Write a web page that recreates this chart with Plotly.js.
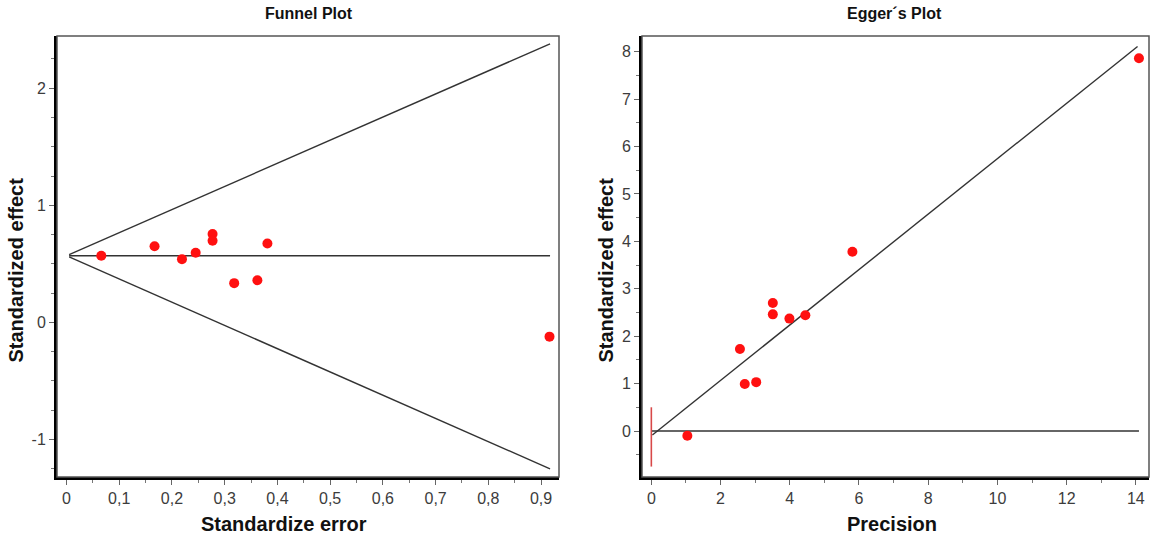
<!DOCTYPE html>
<html>
<head>
<meta charset="utf-8">
<script src="https://cdn.plot.ly/plotly-3.0.1.min.js"></script>
<style>html,body{margin:0;padding:0;background:#fff;}#chart{width:1151px;height:535px;}</style>
</head>
<body>
<div id="chart"></div>
<script>
// Funnel plot data (standard error vs standardized effect)
const funnelSE = [0.066, 0.167, 0.219, 0.245, 0.277, 0.277, 0.318, 0.362, 0.381, 0.916];
const funnelEffect = [0.569, 0.65, 0.54, 0.595, 0.755, 0.697, 0.335, 0.36, 0.673, -0.122];
const pooledEffect = 0.569;
const funnelLineSE = [0.005, 0.917];
const funnelUpper = [0.579, 2.379];
const funnelLower = [0.559, -1.251];

// Egger's plot data (precision vs standardized effect)
const eggerPrecision = [1.04, 2.56, 2.70, 3.03, 3.51, 3.51, 3.99, 4.45, 5.81, 14.09];
const eggerEffect = [-0.10, 1.73, 0.99, 1.03, 2.70, 2.46, 2.37, 2.44, 3.78, 7.86];
const eggerLineX = [0.03, 14.05];
const eggerLineY = [-0.085, 8.11];
const eggerZeroX = [0, 14.09];
const eggerZeroY = [0, 0];
const interceptCI = [-0.75, 0.5];

const funnelXTicks = [0, 0.1, 0.2, 0.3, 0.4, 0.5, 0.6, 0.7, 0.8, 0.9];
const funnelXLabels = ['0', '0,1', '0,2', '0,3', '0,4', '0,5', '0,6', '0,7', '0,8', '0,9'];
const funnelYTicks = [-1, 0, 1, 2];
const funnelYLabels = ['-1', '0', '1', '2'];
const eggerXTicks = [0, 2, 4, 6, 8, 10, 12, 14];
const eggerYTicks = [0, 1, 2, 3, 4, 5, 6, 7, 8];

const lineStyle = {color: '#333333', width: 1.4};
const markerStyle = {color: '#ff1010', size: 10};

const traces = [
  {x: funnelLineSE, y: funnelUpper, mode: 'lines', line: lineStyle, xaxis: 'x', yaxis: 'y', hoverinfo: 'skip'},
  {x: funnelLineSE, y: funnelLower, mode: 'lines', line: lineStyle, xaxis: 'x', yaxis: 'y', hoverinfo: 'skip'},
  {x: funnelLineSE, y: [pooledEffect, pooledEffect], mode: 'lines', line: lineStyle, xaxis: 'x', yaxis: 'y', hoverinfo: 'skip'},
  {x: funnelSE, y: funnelEffect, mode: 'markers', marker: markerStyle, xaxis: 'x', yaxis: 'y'},
  {x: eggerZeroX, y: eggerZeroY, mode: 'lines', line: lineStyle, xaxis: 'x2', yaxis: 'y2', hoverinfo: 'skip'},
  {x: eggerLineX, y: eggerLineY, mode: 'lines', line: lineStyle, xaxis: 'x2', yaxis: 'y2', hoverinfo: 'skip'},
  {x: [0, 0], y: interceptCI, mode: 'lines', line: {color: '#d84848', width: 1.6}, xaxis: 'x2', yaxis: 'y2', hoverinfo: 'skip'},
  {x: eggerPrecision, y: eggerEffect, mode: 'markers', marker: markerStyle, xaxis: 'x2', yaxis: 'y2'}
];

const tickFont = {family: 'Liberation Sans, Arial, sans-serif', size: 16, color: '#3c3c3c'};
const baseAxis = {
  showgrid: false, zeroline: false, showline: true, linecolor: '#000', linewidth: 3,
  ticks: 'outside', ticklen: 5, tickcolor: '#666', tickwidth: 1,
  tickfont: tickFont, automargin: false, fixedrange: true
};
const titleFont = {family: 'Liberation Sans, Arial', size: 20, color: '#111'};

const layout = {
  width: 1151, height: 535,
  margin: {l: 0, r: 0, t: 36, b: 58},
  paper_bgcolor: '#fff', plot_bgcolor: '#fff',
  showlegend: false,
  xaxis: Object.assign({}, baseAxis, {
    domain: [57/1151, 559/1151], range: [-0.018, 0.934], anchor: 'y',
    tickvals: funnelXTicks, ticktext: funnelXLabels,
    minor: {dtick: 0.05, ticklen: 3, tickcolor: '#777', ticks: 'outside'}
  }),
  yaxis: Object.assign({}, baseAxis, {
    domain: [0, 1], range: [-1.321, 2.446], anchor: 'x',
    tickvals: funnelYTicks, ticktext: funnelYLabels,
    minor: {dtick: 0.25, ticklen: 3, tickcolor: '#777', ticks: 'outside'}
  }),
  xaxis2: Object.assign({}, baseAxis, {
    domain: [642/1151, 1149/1151], range: [-0.27, 14.38], anchor: 'y2',
    tickvals: eggerXTicks,
    minor: {dtick: 1, ticklen: 3, tickcolor: '#777', ticks: 'outside'}
  }),
  yaxis2: Object.assign({}, baseAxis, {
    domain: [0, 1], range: [-0.97, 8.33], anchor: 'x2',
    tickvals: eggerYTicks,
    minor: {dtick: 0.5, ticklen: 3, tickcolor: '#777', ticks: 'outside'}
  }),
  shapes: [
    {type: 'rect', xref: 'x domain', yref: 'y domain', x0: 0, x1: 1, y0: 0, y1: 1, line: {color: '#555', width: 1.5}},
    {type: 'rect', xref: 'x2 domain', yref: 'y2 domain', x0: 0, x1: 1, y0: 0, y1: 1, line: {color: '#555', width: 1.5}}
  ],
  annotations: [
    {text: '<b>Funnel Plot</b>', xref: 'paper', yref: 'paper', x: 309/1151, xanchor: 'center', y: 1, yanchor: 'middle', yshift: 23, showarrow: false, font: {family: 'Liberation Sans, Arial', size: 16, color: '#111'}},
    {text: '<b>Egger´s Plot</b>', xref: 'paper', yref: 'paper', x: 894/1151, xanchor: 'center', y: 1, yanchor: 'middle', yshift: 23, showarrow: false, font: {family: 'Liberation Sans, Arial', size: 16, color: '#111'}},
    {text: '<b>Standardize error</b>', xref: 'paper', yref: 'paper', x: 284/1151, xanchor: 'center', y: 0, yanchor: 'middle', yshift: -47, showarrow: false, font: titleFont},
    {text: '<b>Precision</b>', xref: 'paper', yref: 'paper', x: 892/1151, xanchor: 'center', y: 0, yanchor: 'middle', yshift: -47, showarrow: false, font: titleFont},
    {text: '<b>Standardized effect</b>', xref: 'paper', yref: 'paper', x: 16/1151, xanchor: 'center', y: 0.468, yanchor: 'middle', textangle: -90, showarrow: false, font: titleFont},
    {text: '<b>Standardized effect</b>', xref: 'paper', yref: 'paper', x: 606/1151, xanchor: 'center', y: 0.468, yanchor: 'middle', textangle: -90, showarrow: false, font: titleFont}
  ]
};

Plotly.newPlot('chart', traces, layout, {displayModeBar: false, staticPlot: true});
</script>
</body>
</html>
